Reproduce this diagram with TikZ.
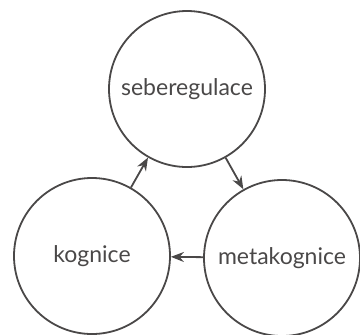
\documentclass[tikz,border=0pt]{standalone}
\usepackage{fontspec}
\setmainfont{Lato}
\usetikzlibrary{arrows.meta}
\definecolor{ink}{HTML}{4A4848}
\begin{document}
\begin{tikzpicture}[
		x=0.5pt, y=-0.5pt,
		font=\fontsize{11.5}{13}\selectfont,
		circ/.style={circle, draw=ink, line width=0.9pt, minimum size=78pt, inner sep=0pt, text=ink},
		arr/.style={-{Stealth[length=6.5pt, width=5pt]}, draw=ink, fill=ink, line width=0.9pt}
	]
		\useasboundingbox (0,0) rectangle (360,334);
		\node[circ] (seb) at (187,89) {seberegulace};
		\node[circ] (kog) at (92,256) {kognice};
		\node[circ] (meta) at (282,258) {metakognice};
		\draw[arr] (kog) -- (seb);
		\draw[arr] (seb) -- (meta);
		\draw[arr] (meta) -- (kog);
	\end{tikzpicture}
\end{document}
